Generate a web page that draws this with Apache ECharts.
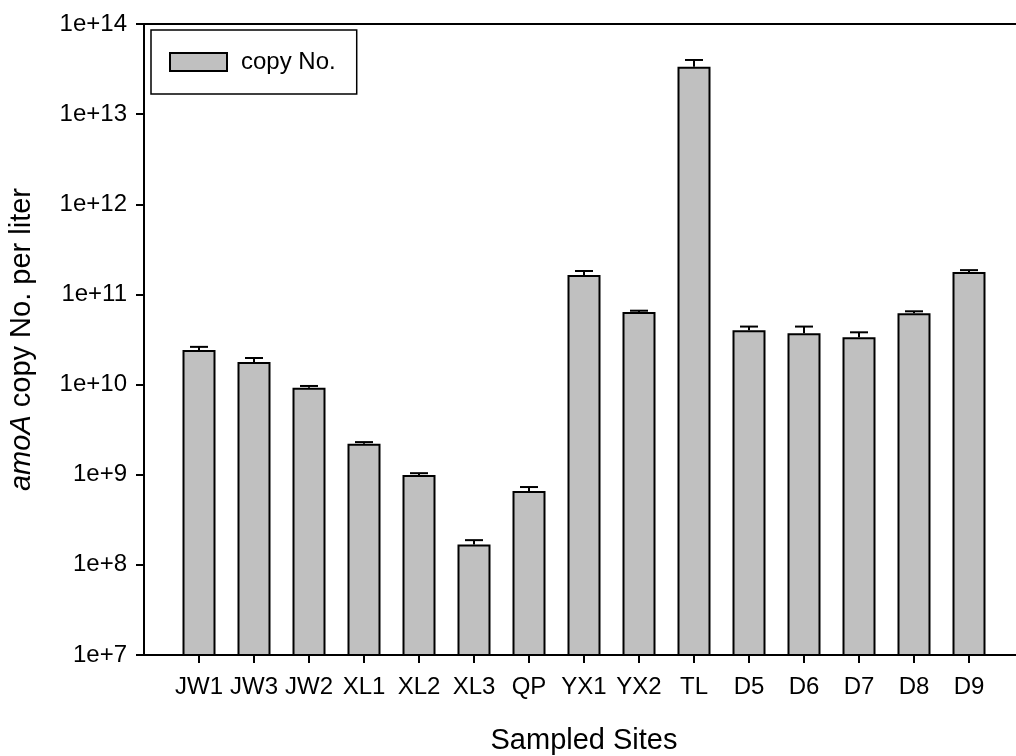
<!DOCTYPE html>
<html>
<head>
<meta charset="utf-8">
<title>amoA copy No.</title>
<script src="https://cdn.jsdelivr.net/npm/echarts@6/dist/echarts.min.js"></script>
<style>
  html, body { margin: 0; padding: 0; background: #fff; }
  #chart { width: 1016px; height: 756px; }
</style>
</head>
<body>
<div id="chart"></div>
<script>
// sampled sites, in plot order
const sites = ['JW1', 'JW3', 'JW2', 'XL1', 'XL2', 'XL3', 'QP', 'YX1', 'YX2', 'TL', 'D5', 'D6', 'D7', 'D8', 'D9']
// amoA copy No. per liter (bar heights)
const copyNo = [2.42e10, 1.78e10, 9.2e9, 2.2e9, 9.9e8, 1.68e8, 6.6e8, 1.64e11, 6.4e10, 3.36e13, 4.0e10, 3.7e10, 3.35e10, 6.2e10, 1.77e11]
// upper error (SD), added on top of each bar
const copyErr = [0.2e10, 0.19e10, 0.45e9, 0.1e9, 0.5e8, 0.2e8, 0.7e8, 0.18e11, 0.2e10, 0.63e13, 0.4e10, 0.7e10, 0.45e10, 0.3e10, 0.09e11]
// y tick exponents: 1e+7 ... 1e+14
const yExponents = [7, 8, 9, 10, 11, 12, 13, 14]

const font = '"Liberation Sans", Arial, sans-serif'

// one empty slot at each end, so the first/last bar sit a full step in from the axis ends
const xCats = [''].concat(sites, [''])
const barData = ['-'].concat(copyNo, ['-'])
const errData = sites.map((s, i) => [i + 1, copyNo[i], copyNo[i] + copyErr[i]])

const chart = echarts.init(document.getElementById('chart'), null, { renderer: 'canvas' })

chart.setOption({
  backgroundColor: '#fff',
  animation: false,
  textStyle: { fontFamily: font, color: '#000' },
  grid: {
    left: 144,
    top: 24,
    right: -8, // plot runs past the right edge of the picture
    bottom: 101,
    outerBoundsMode: 'none',
    containLabel: false,
    show: true,
    borderColor: '#000',
    borderWidth: 2
  },
  legend: {
    data: ['copy No.'],
    left: 151,
    top: 30,
    icon: 'rect',
    itemWidth: 57,
    itemHeight: 18,
    padding: [20, 21, 20, 18],
    borderColor: '#000',
    borderWidth: 1.5,
    textStyle: { fontSize: 24, color: '#000', fontFamily: font, padding: [0, 0, 0, 9] }
  },
  xAxis: {
    type: 'category',
    data: xCats,
    boundaryGap: false,
    name: 'Sampled Sites',
    nameLocation: 'middle',
    nameGap: 71,
    nameTextStyle: { fontSize: 29, color: '#000', fontFamily: font },
    axisLine: { lineStyle: { color: '#000', width: 2 } },
    axisTick: {
      length: 8,
      lineStyle: { color: '#000', width: 2 },
      interval: function (index) { return index > 0 && index < xCats.length - 1 }
    },
    axisLabel: { interval: 0, margin: 20, fontSize: 24, color: '#000', fontFamily: font },
    splitLine: { show: false }
  },
  yAxis: {
    type: 'log',
    logBase: 10,
    min: Math.pow(10, yExponents[0]),
    max: Math.pow(10, yExponents[yExponents.length - 1]),
    name: '{i|amoA} copy No. per liter',
    nameLocation: 'middle',
    nameGap: 108,
    nameTextStyle: {
      fontSize: 29,
      color: '#000',
      fontFamily: font,
      rich: { i: { fontStyle: 'italic', fontSize: 29, fontFamily: font, color: '#000' } }
    },
    axisLine: { show: true, lineStyle: { color: '#000', width: 2 } },
    axisTick: { show: true, length: 8, lineStyle: { color: '#000', width: 2 } },
    axisLabel: {
      margin: 17,
      fontSize: 24,
      color: '#000',
      fontFamily: font,
      formatter: function (v) { return '1e+' + Math.round(Math.log10(v)) }
    },
    splitLine: { show: false }
  },
  series: [
    {
      name: 'copy No.',
      type: 'bar',
      data: barData,
      barWidth: 33,
      itemStyle: { color: '#c0c0c0', borderColor: '#000', borderWidth: 2 }
    },
    {
      name: 'err',
      type: 'custom',
      data: errData,
      z: 3,
      renderItem: function (params, api) {
        const base = api.coord([api.value(0), api.value(1)])
        const top = api.coord([api.value(0), api.value(2)])
        const half = 9
        return {
          type: 'group',
          children: [
            { type: 'line', shape: { x1: base[0], y1: base[1], x2: top[0], y2: top[1] }, style: { stroke: '#000', lineWidth: 2 } },
            { type: 'line', shape: { x1: top[0] - half, y1: top[1], x2: top[0] + half, y2: top[1] }, style: { stroke: '#000', lineWidth: 2 } }
          ]
        }
      }
    }
  ]
})
</script>
</body>
</html>
